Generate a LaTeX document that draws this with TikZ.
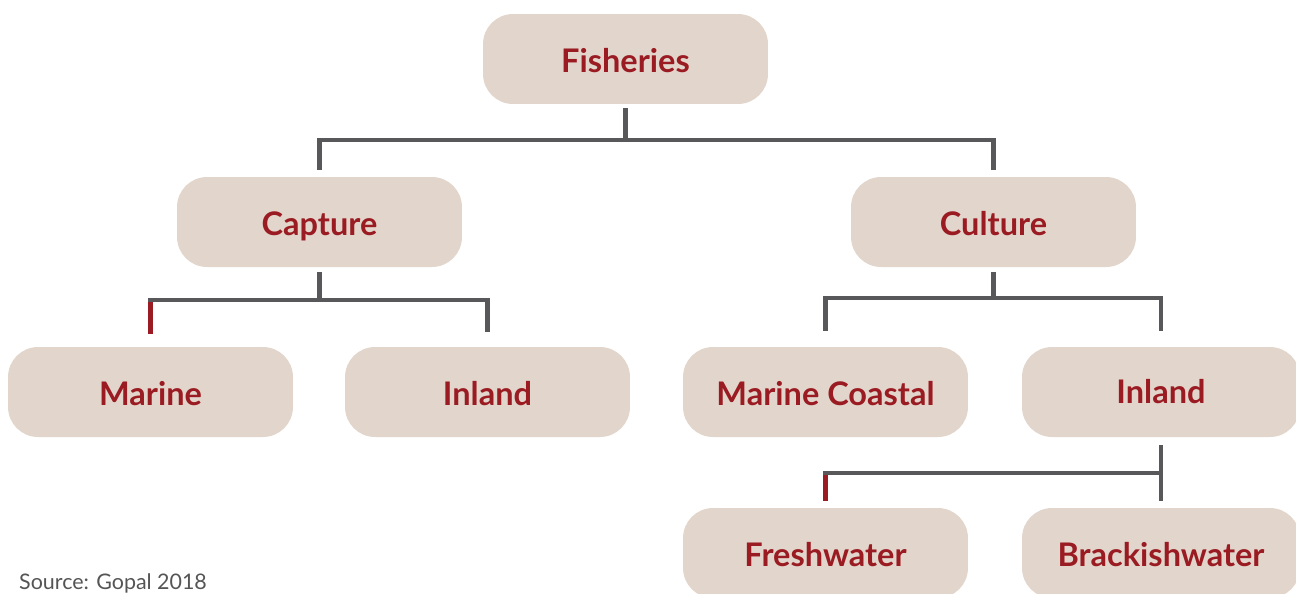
\documentclass[tikz,border=0pt]{standalone}
\usepackage{fontspec}
\setmainfont{Lato}
\usetikzlibrary{calc}
\definecolor{boxfill}{HTML}{E2D6CC}
\definecolor{boxtext}{HTML}{9A1B22}
\definecolor{linegray}{HTML}{58585A}
\definecolor{srcgray}{HTML}{555555}
\begin{document}
\begin{tikzpicture}[x=0.02cm,y=-0.02cm,
		box/.style={fill=boxfill,rounded corners=0.6cm,minimum width=5.7cm,minimum height=1.8cm,inner sep=0pt,
			text height=15pt,text depth=0pt,text=boxtext,font=\fontsize{18.5}{22}\selectfont\bfseries},
		link/.style={draw=linegray,line width=2.5pt,line cap=rect},
		redlink/.style={draw=boxtext,line width=2.5pt}]
	\clip (0,0) rectangle (1296,593);
	% boxes
	\node[box] (fish) at (625.5,59) {Fisheries};
	\node[box] (capture) at (319.5,222) {Capture};
	\node[box] (culture) at (993.5,222) {Culture};
	\node[box] (marine) at (150.5,392) {Marine};
	\node[box] (inland) at (487.5,392) {Inland};
	\node[box] (mcoast) at (825.5,392) {Marine Coastal};
	\node[box,minimum width=5.56cm,text height=13.5pt] (inlandr) at (1161,392) {Inland};
	\node[box] (fresh) at (825.5,553) {Freshwater};
	\node[box,minimum width=5.56cm] (brack) at (1161,553) {Brackishwater};
	\node[anchor=base west,text=srcgray,font=\fontsize{12.2}{14}\selectfont] (source) at (13,589) {Source: Gopal 2018};
	% connectors
	\coordinate (bus1) at (625.5,140);
	\coordinate (bus2) at (319.5,300);
	\coordinate (bus3) at (993.5,298);
	\coordinate (bus4) at (1161,473);
	\draw[link] ($(fish.south)+(0,6)$) -- (bus1);
	\draw[link] ($(capture.north)-(0,9)$) |- (bus1) -| ($(culture.north)-(0,9)$);
	\draw[link] ($(capture.south)+(0,7)$) -- (bus2);
	\draw[redlink] ($(marine.north)-(0,13)$) -- (marine.north |- bus2);
	\draw[link] (marine.north |- bus2) -- (bus2) -| ($(inland.north)-(0,17)$);
	\draw[link] ($(culture.south)+(0,7)$) -- (bus3);
	\draw[link] ($(mcoast.north)-(0,18)$) |- (bus3) -| ($(inlandr.north)-(0,18)$);
	\draw[link] ($(inlandr.south)+(0,10)$) -- ($(brack.north)-(0,9)$);
	\draw[redlink] ($(fresh.north)-(0,7)$) -- (fresh.north |- bus4);
	\draw[link] (fresh.north |- bus4) -- (bus4);
\end{tikzpicture}
\end{document}
